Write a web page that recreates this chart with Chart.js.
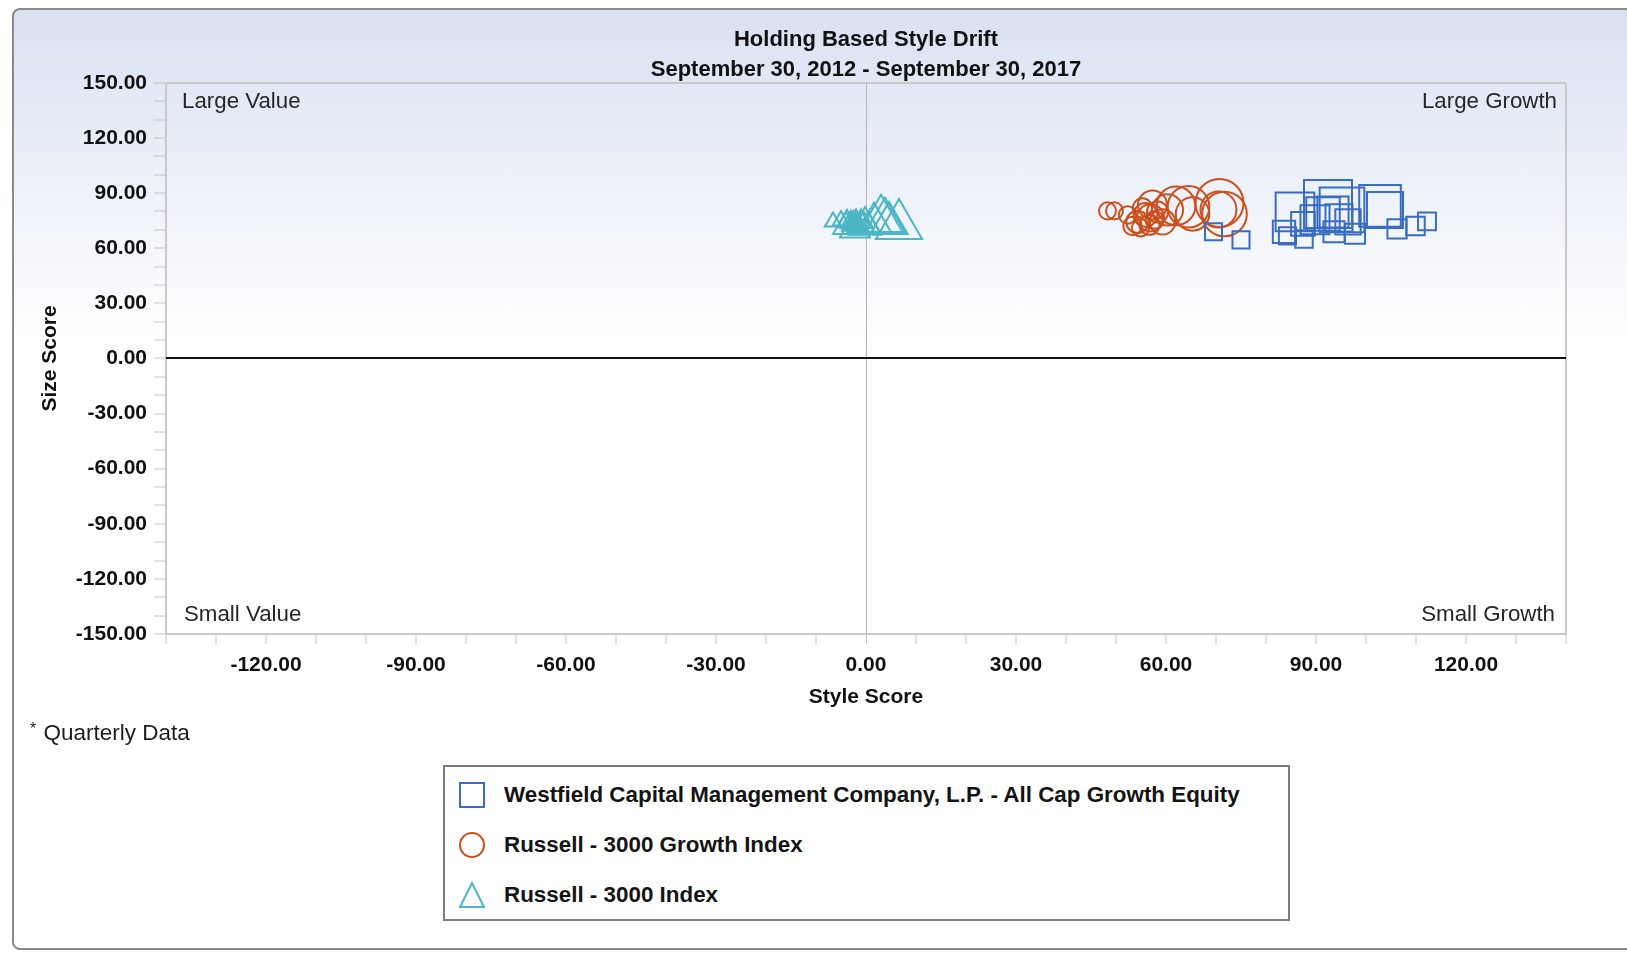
<!DOCTYPE html>
<html>
<head>
<meta charset="utf-8">
<title>Holding Based Style Drift</title>
<script src="https://cdn.jsdelivr.net/npm/chart.js"></script>
<style>
  html, body { margin: 0; padding: 0; background: #fff; }
  body { width: 1627px; height: 953px; position: relative; overflow: hidden; font-family: "Liberation Sans", Arial, sans-serif; }
  .frame {
    position: absolute; left: 12px; top: 8px; width: 1640px; height: 938px;
    border: 2px solid #8a8a8a; border-radius: 8px;
    background: linear-gradient(to bottom, #d9e1f2 0px, #eaeff8 150px, #ffffff 330px, #ffffff 100%);
  }
  #chart { position: absolute; left: 0; top: 0; }
  .note { position: absolute; left: 30px; top: 716px; font-size: 22.5px; line-height: 26px; color: #1e1e1e; }
  .note sup { font-size: 16px; vertical-align: 6px; margin-right: 1px; }
  .legend { position: absolute; left: 443px; top: 765px; width: 843px; height: 152px; border: 2px solid #7d7d7d; background: #fff; }
  .legend-item { position: absolute; left: 14px; height: 30px; display: flex; align-items: center; font-weight: bold; font-size: 22.4px; color: #141414; white-space: nowrap; }
  .legend-item svg { margin-right: 19px; }
</style>
</head>
<body>
<div class="frame"></div>
<canvas id="chart" width="1627" height="720"></canvas>
<div class="note"><sup>*</sup> Quarterly Data</div>
<div class="legend" id="legend"></div>
<script>
// quarters, Sep 2012 .. Sep 2017 (marker grows with time)
const quarters = ['Q3 2012', 'Q4 2012', 'Q1 2013', 'Q2 2013', 'Q3 2013', 'Q4 2013', 'Q1 2014',
    'Q2 2014', 'Q3 2014', 'Q4 2014', 'Q1 2015', 'Q2 2015', 'Q3 2015', 'Q4 2015', 'Q1 2016',
    'Q2 2016', 'Q3 2016', 'Q4 2016', 'Q1 2017', 'Q2 2017', 'Q3 2017'];

const seriesNames = [
    'Westfield Capital Management Company, L.P. - All Cap Growth Equity',
    'Russell - 3000 Growth Index',
    'Russell - 3000 Index'
];

// Westfield (squares)
const westfieldStyle = [69.5, 75.0, 84.3, 87.6, 112.2, 109.9, 106.2, 97.8, 93.6, 83.6, 87.4,
    96.4, 94.6, 89.8, 93.4, 91.4, 103.8, 85.8, 102.8, 95.2, 92.4];
const westfieldSize = [68.9, 64.5, 66.7, 65.0, 74.6, 72.1, 70.5, 67.8, 68.9, 68.9, 73.2,
    74.3, 76.5, 75.4, 79.7, 78.6, 80.8, 79.7, 83.0, 80.8, 84.0];

// Russell 3000 Growth (circles)
const r3000gStyle = [49.7, 48.3, 54.9, 52.3, 57.7, 53.3, 55.3, 56.7, 58.3, 54.3, 55.9,
    59.3, 56.9, 57.3, 60.3, 65.3, 70.5, 62.0, 64.5, 71.7, 70.7];
const r3000gSize = [80.3, 80.3, 71.0, 78.1, 75.4, 72.1, 81.9, 72.7, 79.7, 74.3, 78.1,
    74.3, 76.5, 83.5, 80.8, 78.6, 81.0, 83.0, 82.5, 78.6, 84.6];

// Russell 3000 (triangles)
const r3000Style = [-6.6, -2.0, -5.0, -3.0, -1.0, -4.0, -2.0, -0.5, -3.0, -1.5, -2.5,
    0.5, -1.0, -3.8, -2.2, -0.2, 1.6, 4.6, 3.8, 3.0, 6.6];
const r3000Size = [74.3, 76.0, 75.0, 75.0, 75.0, 74.0, 73.0, 74.0, 74.0, 72.0, 73.0,
    72.0, 73.0, 72.1, 70.5, 72.3, 73.8, 73.5, 74.8, 75.5, 72.3];

const quadrantLabels = ['Large Value', 'Large Growth', 'Small Value', 'Small Growth'];

const colors = ['#3a6cc4', '#cc4f1c', '#4cb6c5'];
const shapes = ['rect', 'circle', 'triangle'];
const FONT = '"Liberation Sans", Arial, sans-serif';

// visual extent of a marker for quarter i (px), later quarters drawn larger
function markerExtent(i) {
    const t = i / (quarters.length - 1);
    return 17 + 31 * Math.pow(t, 2.2);
}

function markerRadius(shape, i) {
    const s = markerExtent(i);
    if (shape === 'rect') return s / Math.SQRT2;
    if (shape === 'triangle') return s / 1.8;
    return s / 2;
}

function buildPoints(xs, ys, shape) {
    return xs.map((x, i) => ({ x: x, y: ys[i], r: markerRadius(shape, i) }));
}

const datasets = [
    [westfieldStyle, westfieldSize],
    [r3000gStyle, r3000gSize],
    [r3000Style, r3000Size]
].map(([xs, ys], k) => ({
    label: seriesNames[k],
    data: buildPoints(xs, ys, shapes[k]),
    pointStyle: shapes[k],
    borderColor: colors[k],
    backgroundColor: 'rgba(0,0,0,0)',
    borderWidth: 2
}));

const quadrantPlugin = {
    id: 'quadrants',
    afterDraw(chart) {
        const { ctx, chartArea: a } = chart;
        ctx.save();
        ctx.font = '22.3px ' + FONT;
        ctx.fillStyle = '#262626';
        ctx.textBaseline = 'middle';
        ctx.textAlign = 'left';
        ctx.fillText(quadrantLabels[0], a.left + 16, a.top + 19);
        ctx.fillText(quadrantLabels[2], a.left + 18, a.bottom - 19);
        ctx.textAlign = 'right';
        ctx.fillText(quadrantLabels[1], a.right - 9, a.top + 19);
        ctx.fillText(quadrantLabels[3], a.right - 11, a.bottom - 19);
        ctx.restore();
    }
};

function gridColor(min, max, zeroColor) {
    return c => {
        const v = c.tick ? c.tick.value : null;
        if (v === 0) return zeroColor;
        if (v === min || v === max) return '#c9c9c9';
        return 'rgba(0,0,0,0)';
    };
}

function tickLabel(v) {
    return v % 30 === 0 ? v.toFixed(2) : '';
}

const tickFont = { family: FONT, size: 21, weight: 'bold' };

const chart = new Chart(document.getElementById('chart').getContext('2d'), {
    type: 'bubble',
    data: { datasets: datasets },
    options: {
        responsive: false,
        animation: false,
        layout: { padding: { left: 38, right: 61, top: 27, bottom: 10 } },
        plugins: {
            legend: { display: false },
            tooltip: { enabled: false },
            title: {
                display: true,
                text: 'Holding Based Style Drift',
                fullSize: false,
                color: '#111',
                font: { family: FONT, size: 22, weight: 'bold' },
                padding: { top: 0, bottom: 3 }
            },
            subtitle: {
                display: true,
                text: 'September 30, 2012 - September 30, 2017',
                fullSize: false,
                color: '#111',
                font: { family: FONT, size: 22, weight: 'bold' },
                padding: { top: 0, bottom: 0 }
            }
        },
        scales: {
            x: {
                type: 'linear',
                min: -140,
                max: 140,
                afterFit: scale => { scale.height = 76; },
                border: { display: false },
                grid: {
                    color: gridColor(-140, 140, '#b5b5b5'),
                    lineWidth: c => (c.tick && c.tick.value === 0) ? 1 : 2,
                    tickColor: '#c4c4c4',
                    tickWidth: 1,
                    tickLength: 10
                },
                ticks: {
                    stepSize: 10,
                    autoSkip: false,
                    maxRotation: 0,
                    padding: 9,
                    color: '#111',
                    font: tickFont,
                    callback: tickLabel
                },
                title: {
                    display: true,
                    text: 'Style Score',
                    color: '#111',
                    font: tickFont,
                    padding: { top: 4, bottom: 0 }
                }
            },
            y: {
                type: 'linear',
                min: -150,
                max: 150,
                afterFit: scale => { scale.width = 128; },
                border: { display: false },
                grid: {
                    color: gridColor(-150, 150, '#111'),
                    lineWidth: 2,
                    tickColor: '#c4c4c4',
                    tickWidth: 1,
                    tickLength: 12
                },
                ticks: {
                    stepSize: 10,
                    autoSkip: false,
                    padding: 7,
                    color: '#111',
                    font: tickFont,
                    callback: tickLabel
                },
                title: {
                    display: true,
                    text: 'Size Score',
                    color: '#111',
                    font: tickFont,
                    padding: 0
                }
            }
        }
    },
    plugins: [quadrantPlugin]
});

function iconSvg(shape, color) {
    let body;
    if (shape === 'rect') {
        body = `<rect x="1" y="1" width="24" height="24" />`;
    } else if (shape === 'circle') {
        body = `<circle cx="13" cy="13" r="12" />`;
    } else {
        body = `<polygon points="13,1 25,25 1,25" />`;
    }
    return `<svg width="26" height="26" viewBox="0 0 26 26" fill="none" stroke="${color}" stroke-width="2">${body}</svg>`;
}

// HTML legend, one row per series
function buildLegend(c) {
    const box = document.getElementById('legend');
    c.data.datasets.forEach((ds, i) => {
        const item = document.createElement('div');
        item.className = 'legend-item';
        item.style.top = (13 + i * 50) + 'px';
        item.innerHTML = iconSvg(ds.pointStyle, ds.borderColor) + '<span>' + ds.label + '</span>';
        box.appendChild(item);
    });
}

buildLegend(chart);
</script>
</body>
</html>
